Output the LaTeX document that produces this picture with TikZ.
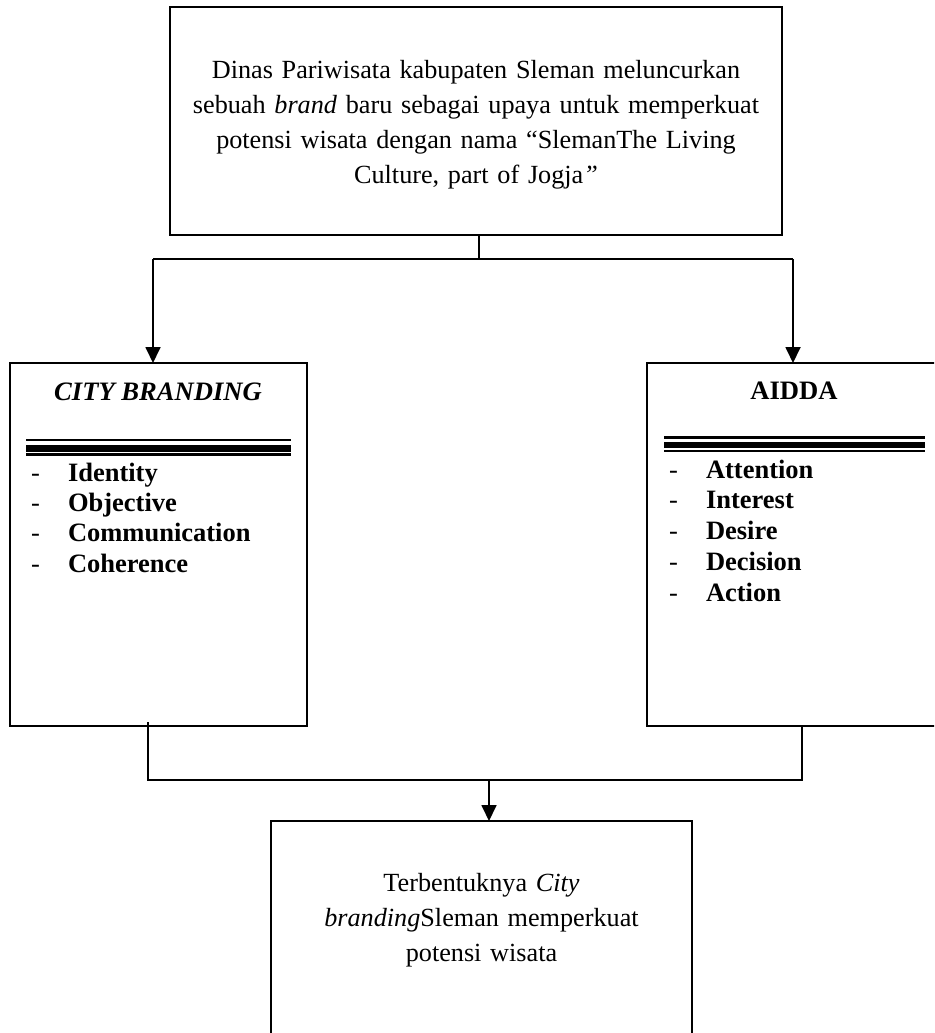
\documentclass[tikz,border=0pt]{standalone}
\usepackage{fontspec}
\setmainfont{Liberation Serif}
\usetikzlibrary{arrows.meta}
\tikzset{
  box/.style={draw, line width=1.8pt, inner sep=0pt, outer sep=0pt},
  conn/.style={line width=1.8pt},
  arr/.style={line width=1.8pt, -{Triangle[length=16pt,width=15pt]}},
  txt/.style={inner sep=0pt, outer sep=0pt, font=\fontsize{26.2}{35}\selectfont},
  item/.style={inner sep=0pt, outer sep=0pt, anchor=base west, font=\fontsize{26.5}{30}\selectfont\bfseries},
  dashmark/.style={inner sep=0pt, outer sep=0pt, anchor=base west, font=\fontsize{26.5}{30}\selectfont},
}
\begin{document}
\begin{tikzpicture}[x=1pt,y=-1pt]
\useasboundingbox (0,0) rectangle (934,1033);
\clip (0,0) rectangle (934,1033);
\fill[white] (0,0) rectangle (934,1033);

% boxes
\node[box, minimum width=612pt, minimum height=228pt] (top) at (476,121) {};
\node[box, minimum width=297pt, minimum height=363pt] (left) at (158.5,544.5) {};
\node[box, minimum width=300pt, minimum height=363pt] (right) at (797,544.5) {};
\node[box, minimum width=421pt, minimum height=226pt] (bottom) at (481.5,934) {};

% top text
\node[txt, anchor=base, text width=600pt, align=center] (toptext) at (476,78)
  {Dinas Pariwisata kabupaten Sleman meluncurkan\\
   sebuah \textit{brand} baru sebagai upaya untuk memperkuat\\
   potensi wisata dengan nama ``SlemanThe Living\\
   Culture, part of Jogja\textit{''}};

% left box content
\node[txt, anchor=base, font=\fontsize{26.6}{30}\selectfont\bfseries\itshape] (ltitle) at (158,400) {CITY BRANDING};
\draw[line width=2.6pt] (26,440) -- (291,440);
\draw[line width=6.6pt] (26,448.3) -- (291,448.3);
\draw[line width=2.4pt] (26,454.5) -- (291,454.5);
\node[dashmark] (ld1) at (31,481) {-};
\node[item] (li1) at (68,481) {Identity};
\node[dashmark] (ld2) at (31,511.3) {-};
\node[item] (li2) at (68,511.3) {Objective};
\node[dashmark] (ld3) at (31,541.6) {-};
\node[item] (li3) at (68,541.6) {Communication};
\node[dashmark] (ld4) at (31,572) {-};
\node[item] (li4) at (68,572) {Coherence};

% right box content
\node[txt, anchor=base, font=\fontsize{26.6}{30}\selectfont\bfseries] (rtitle) at (794,399) {AIDDA};
\draw[line width=2.6pt] (664,437.3) -- (925,437.3);
\draw[line width=6.6pt] (664,445) -- (925,445);
\draw[line width=2.4pt] (664,451.2) -- (925,451.2);
\node[dashmark] (rd1) at (669,478) {-};
\node[item] (ri1) at (706,478) {Attention};
\node[dashmark] (rd2) at (669,508.7) {-};
\node[item] (ri2) at (706,508.7) {Interest};
\node[dashmark] (rd3) at (669,539.5) {-};
\node[item] (ri3) at (706,539.5) {Desire};
\node[dashmark] (rd4) at (669,570.2) {-};
\node[item] (ri4) at (706,570.2) {Decision};
\node[dashmark] (rd5) at (669,601) {-};
\node[item] (ri5) at (706,601) {Action};

% bottom text
\node[txt, anchor=base, text width=410pt, align=center] (bottext) at (481.5,891)
  {Terbentuknya \textit{City}\\
   \textit{branding}Sleman memperkuat\\
   potensi wisata};

% connectors
\coordinate (t1) at (479,259);
\coordinate (la) at (153,259);
\coordinate (ra) at (793,259);
\draw[conn] (top.south -| t1) -- (t1);
\draw[conn] (la) -- (ra);
\draw[arr] (la) -- (left.north -| la);
\draw[arr] (ra) -- (right.north -| ra);

\coordinate (bl) at (148,780);
\coordinate (br) at (802,780);
\coordinate (bm) at (489,780);
\draw[conn] ([yshift=4pt]left.south -| bl) -- (bl) -- (br) -- (right.south -| br);
\draw[arr] (bm) -- (bottom.north -| bm);
\end{tikzpicture}
\end{document}
